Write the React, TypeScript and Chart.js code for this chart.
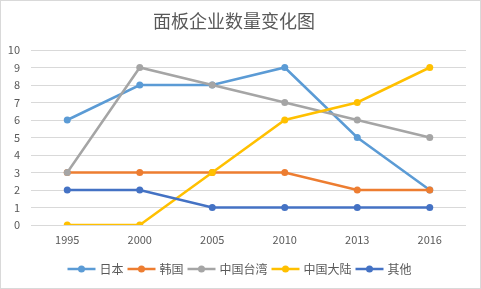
import React, { useEffect, useRef } from "react";
import { Chart, registerables } from "chart.js";

Chart.register(...registerables);

const title = "面板企业数量变化图";
const categories = ["1995", "2000", "2005", "2010", "2013", "2016"];
const seriesNames = ["日本", "韩国", "中国台湾", "中国大陆", "其他"];
const japan = [6, 8, 8, 9, 5, 2];
const korea = [3, 3, 3, 3, 2, 2];
const taiwan = [3, 9, 8, 7, 6, 5];
const mainland = [0, 0, 3, 6, 7, 9];
const others = [2, 2, 1, 1, 1, 1];
const colors = ["#5B9BD5", "#ED7D31", "#A5A5A5", "#FFC000", "#4472C4"];

const FONT = '"Noto Sans CJK SC", "Noto Sans", sans-serif';

const decorPlugin = {
  id: "decor",
  afterDraw(chart: any) {
    const ctx = chart.ctx;
    ctx.save();
    // border
    ctx.strokeStyle = "#d9d9d9";
    ctx.lineWidth = 1;
    ctx.strokeRect(0.5, 0.5, chart.width - 1, chart.height - 1);
    // title
    ctx.fillStyle = "#595959";
    ctx.font = `18px ${FONT}`;
    ctx.textAlign = "center";
    ctx.textBaseline = "middle";
    ctx.fillText(title, 234, 21);
    // legend
    ctx.font = `12px ${FONT}`;
    const lineW = 28;
    const gap1 = 4;
    const gap2 = 4;
    const widths = seriesNames.map((n) => ctx.measureText(n).width);
    let total = 0;
    widths.forEach((w, i) => {
      total += lineW + gap1 + w + (i < widths.length - 1 ? gap2 : 0);
    });
    let x = (chart.width - total) / 2 - 1;
    const y = 269;
    seriesNames.forEach((n, i) => {
      ctx.strokeStyle = colors[i];
      ctx.lineWidth = 2.5;
      ctx.beginPath();
      ctx.moveTo(x, y);
      ctx.lineTo(x + lineW, y);
      ctx.stroke();
      ctx.fillStyle = colors[i];
      ctx.beginPath();
      ctx.arc(x + lineW / 2, y, 3.5, 0, Math.PI * 2);
      ctx.fill();
      ctx.fillStyle = "#595959";
      ctx.textAlign = "left";
      ctx.fillText(n, x + lineW + gap1, y);
      x += lineW + gap1 + widths[i] + gap2;
    });
    ctx.restore();
  },
};

export default function App() {
  const ref = useRef<HTMLCanvasElement>(null);
  useEffect(() => {
    const data = [japan, korea, taiwan, mainland, others];
    const chart = new Chart(ref.current!, {
      type: "line",
      data: {
        labels: categories,
        datasets: seriesNames.map((name, i) => ({
          label: name,
          data: data[i],
          borderColor: colors[i],
          backgroundColor: colors[i],
          pointBackgroundColor: colors[i],
          pointBorderColor: colors[i],
          pointRadius: 3.5,
          pointBorderWidth: 0,
          borderWidth: 2.5,
          tension: 0,
          order: 5 - i,
        })),
      },
      options: {
        responsive: false,
        animation: false,
        layout: { padding: { top: 50, right: 15, left: 0, bottom: 0 } },
        plugins: {
          legend: { display: false },
          title: { display: false },
          tooltip: { enabled: false },
        },
        scales: {
          x: {
            offset: true,
            grid: { display: false, drawTicks: false },
            border: { display: false },
            ticks: {
              color: "#595959",
              font: { family: FONT, size: 11 },
              padding: 8,
              maxRotation: 0,
            },
            afterFit(scale: any) {
              scale.height = 64;
            },
          },
          y: {
            min: 0,
            max: 10,
            grid: { color: "#d9d9d9", drawTicks: false, lineWidth: 1 },
            border: { display: false },
            ticks: {
              stepSize: 1,
              color: "#595959",
              font: { family: FONT, size: 11 },
              padding: 11,
            },
            afterFit(scale: any) {
              scale.width = 31;
            },
          },
        },
      },
      plugins: [decorPlugin],
    });
    return () => chart.destroy();
  }, []);
  return (
    <div style={{ position: "fixed", left: 0, top: 0, width: 481, height: 289, background: "#fff" }}>
      <canvas ref={ref} width={481} height={289} style={{ width: 481, height: 289 }} />
    </div>
  );
}
